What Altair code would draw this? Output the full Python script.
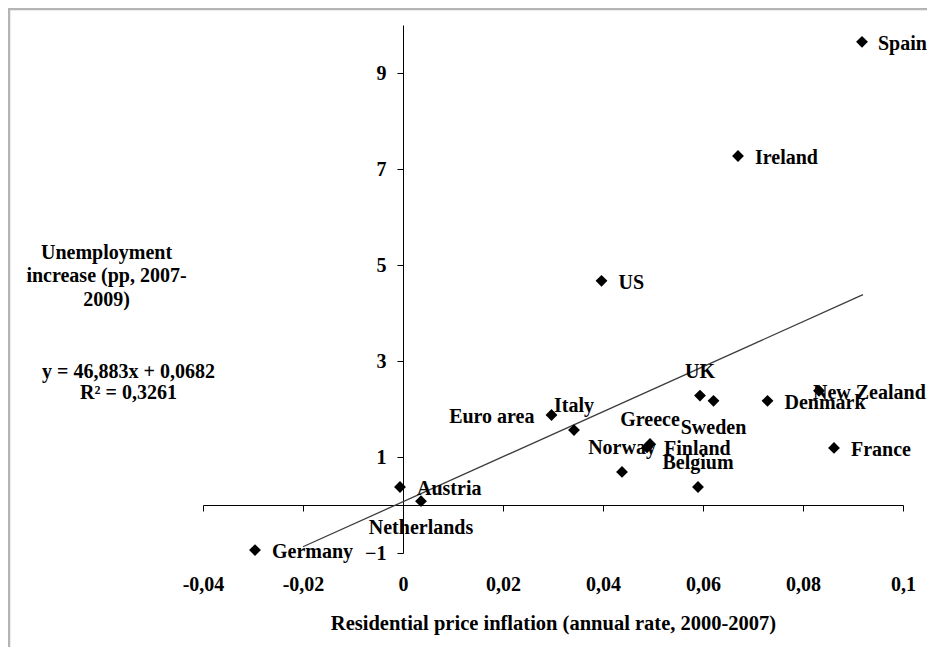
import altair as alt
import pandas as pd

# ---------------- data ----------------
countries = ["Spain", "Ireland", "US", "UK", "Sweden", "Denmark", "New Zealand",
             "France", "Euro area", "Italy", "Greece", "Finland", "Norway",
             "Belgium", "Austria", "Netherlands", "Germany"]
price_inflation = [0.0918, 0.0670, 0.0397, 0.0594, 0.0621, 0.0729, 0.0832,
                   0.0862, 0.0297, 0.0342, 0.0494, 0.0488, 0.0438,
                   0.0590, -0.0006, 0.0036, -0.0296]
unemployment_increase = [9.65, 7.27, 4.67, 2.28, 2.17, 2.17, 2.38,
                         1.19, 1.875, 1.56, 1.27, 1.20, 0.69,
                         0.375, 0.375, 0.08, -0.94]
label_side = ["edge", "right", "right", "above", "below", "right", "near",
              "right", "left", "above", "above", "right", "above",
              "above", "right", "below", "right"]

x_ticks = [-0.04, -0.02, 0, 0.02, 0.04, 0.06, 0.08, 0.1]
y_ticks = [-1, 1, 3, 5, 7, 9]
x_domain = [-0.04, 0.1]
y_domain = [-1, 10]

trend_slope = 46.883
trend_intercept = 0.0682
trend_r2 = 0.3261
trend_x = [-0.02, 0.092]

x_title = "Residential price inflation (annual rate, 2000-2007)"
y_title = ["Unemployment", "increase (pp, 2007-", "2009)"]

# ---------------- layout ----------------
W, H = 700, 528
PAD_L, PAD_T, PAD_R, PAD_B = 195, 17, 24, 94
FONT = "Liberation Serif"
FS = 20

df = pd.DataFrame({
    "country": countries,
    "x": price_inflation,
    "y": unemployment_increase,
    "side": label_side,
})
trend_df = pd.DataFrame({
    "x": trend_x,
    "y": [trend_slope * v + trend_intercept for v in trend_x],
})

x_enc = alt.X(
    "x:Q",
    scale=alt.Scale(domain=x_domain, nice=False, zero=False),
    axis=alt.Axis(
        values=x_ticks,
        labelExpr="replace(toString(datum.value), '.', ',')",
        offset=-48,
        grid=False,
        domainColor="black", domainWidth=1,
        tickColor="black", tickSize=6, tickWidth=1,
        labelPadding=63, labelFont=FONT, labelFontSize=FS,
        labelFontWeight="bold", labelColor="black",
        labelFlush=False, labelOverlap=False,
        title=x_title, titleFont=FONT, titleFontSize=20.5,
        titleFontWeight="bold", titleColor="black",
        titleBaseline="alphabetic", titleY=124,
    ),
)
y_enc = alt.Y(
    "y:Q",
    scale=alt.Scale(domain=y_domain, nice=False, zero=False),
    axis=alt.Axis(
        values=y_ticks,
        offset=-200,
        grid=False,
        domainColor="black", domainWidth=1,
        tickColor="black", tickSize=6, tickWidth=1,
        labelPadding=11, labelFont=FONT, labelFontSize=FS,
        labelFontWeight="bold", labelColor="black",
        labelFlush=False, labelOverlap=False,
        title=y_title, titleFont=FONT, titleFontSize=FS,
        titleFontWeight="bold", titleColor="black",
        titleAngle=0, titleAlign="center", titleBaseline="alphabetic",
        titleX=-297, titleY=233, titleLineHeight=23.5,
    ),
)

trend = alt.Chart(trend_df).mark_line(color="#3c3c3c", strokeWidth=1.3).encode(
    x=x_enc, y=y_enc
)

points = alt.Chart(df).mark_point(
    shape="diamond", filled=True, size=140, color="black", opacity=1
).encode(x=x_enc, y=y_enc)

placements = {
    "right": ("left", 17, 2),
    "edge": ("left", 16, 2),
    "left": ("right", -17, 2),
    "above": ("center", 0, -24),
    "below": ("center", 0, 27),
    "near": ("left", -6, 2),
}
label_layers = []
for side, (align, dx, dy) in placements.items():
    label_layers.append(
        alt.Chart(df).transform_filter(alt.datum.side == side).mark_text(
            align=align, dx=dx, dy=dy, baseline="middle",
            font=FONT, fontSize=FS, fontWeight="bold", color="black"
        ).encode(x=x_enc, y=y_enc, text="country:N")
    )

eq_lines = [
    f"y = {trend_slope}x + {trend_intercept}".replace(".", ","),
    f"R² = {trend_r2}".replace(".", ","),
]
equation = alt.Chart(alt.Data(values=[{}])).mark_text(
    align="center", baseline="alphabetic", lineHeight=21,
    font=FONT, fontSize=FS, fontWeight="bold", color="black"
).encode(x=alt.value(-74.5), y=alt.value(353), text=alt.value(eq_lines))

frame_left = alt.Chart(alt.Data(values=[{}])).mark_rule(
    color="#b4b4b4", strokeWidth=2.5
).encode(x=alt.value(-194), y=alt.value(-PAD_T), y2=alt.value(H + PAD_B))
frame_top = alt.Chart(alt.Data(values=[{}])).mark_rule(
    color="#b4b4b4", strokeWidth=2.5
).encode(y=alt.value(-16), x=alt.value(-PAD_L), x2=alt.value(W + PAD_R))

chart = alt.layer(
    frame_left, frame_top, trend, points, *label_layers, equation
).properties(
    width=W, height=H,
    padding={"left": PAD_L, "top": PAD_T, "right": PAD_R, "bottom": PAD_B},
    autosize=alt.AutoSizeParams(type="none"),
    background="white",
).configure_view(strokeWidth=0)

chart.save("out.html", embed_options={"renderer": "svg", "actions": False})
